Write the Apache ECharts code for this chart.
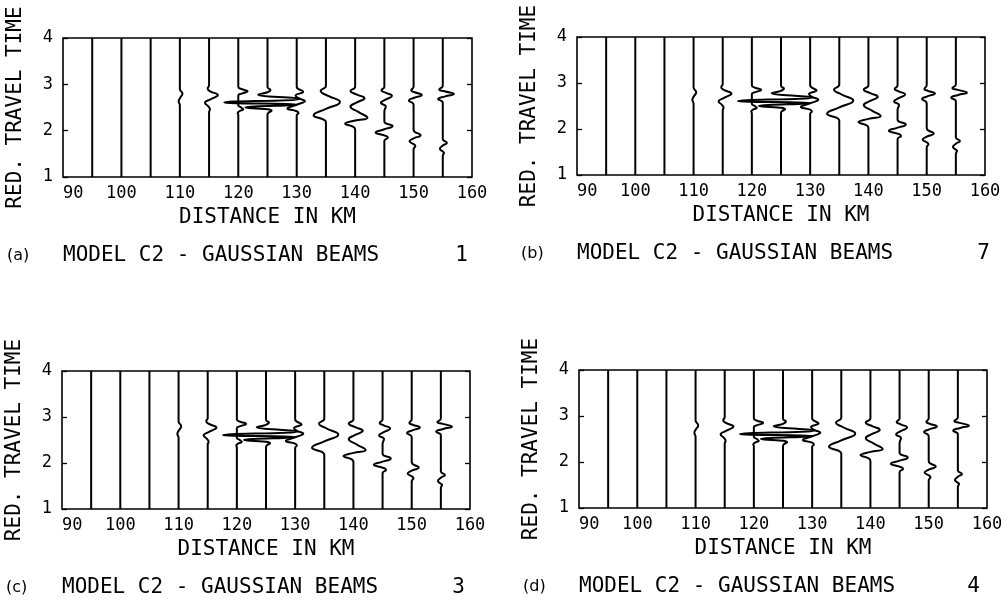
<!DOCTYPE html>
<html>
<head>
<meta charset="utf-8">
<script src="https://cdn.jsdelivr.net/npm/echarts@6/dist/echarts.min.js"></script>
<style>html,body{margin:0;padding:0;background:#fff}#c{width:1008px;height:603px}</style>
</head>
<body>
<div id="c"></div>
<script>
// ---- data ----
const distances = [95, 100, 105, 110, 115, 120, 125, 130, 135, 140, 145, 150, 155];
// each trace: [time (s), horizontal deflection (km)] from top (4 s) to bottom (1 s)
const trace95  = [[4,0],[1,0]];
const trace100 = [[4,0],[1,0]];
const trace105 = [[4,0],[1,0]];
const trace110 = [[4,0],[2.9,0],[2.8,0.45],[2.7,0],[2.63,-0.2],[2.55,0],[1,0]];
const trace115 = [[4,0],[2.98,0],[2.91,-0.25],[2.85,0.2],[2.77,1.5],[2.68,0.3],[2.6,-0.7],[2.52,-0.1],[2.46,0.15],[2.4,0],[1,0]];
const trace120 = [[4,0],[2.95,0],[2.9,0.5],[2.85,1.6],[2.8,0.6],[2.76,0],[2.55,0],[2.5,0.5],[2.46,0.85],[2.42,0.2],[2.38,-0.1],[2.34,0],[1,0]];
const trace125 = [[4,0],[2.94,0],[2.88,0.5],[2.83,0],[2.78,-1.6],[2.69,5.6],[2.61,-7.4],[2.56,5.0],[2.5,-3.8],[2.46,0],[2.43,0.7],[2.39,0.2],[2.35,0],[1,0]];
const trace130 = [[4,0],[2.95,0],[2.84,1.1],[2.76,-0.2],[2.7,0.3],[2.64,1.4],[2.56,0],[2.48,-1.6],[2.42,0],[2.38,0.3],[2.33,0],[1,0]];
const trace135 = [[4,0],[2.97,0],[2.86,-0.9],[2.75,0.4],[2.62,2.4],[2.47,0],[2.33,-2.1],[2.24,-0.4],[2.18,0],[1,0]];
const trace140 = [[4,0],[2.95,0],[2.86,-0.8],[2.78,0.3],[2.7,1.6],[2.61,0.3],[2.52,-0.8],[2.4,0.6],[2.28,2.1],[2.22,0],[2.15,-1.7],[2.08,-0.3],[2.02,0],[1,0]];
const trace145 = [[4,0],[2.95,0],[2.87,-0.5],[2.82,0.2],[2.75,1.3],[2.67,0.2],[2.6,-0.6],[2.52,0.25],[2.45,0.05],[2.4,0],[2.2,0],[2.1,1.4],[2.03,0],[1.96,-1.5],[1.9,0],[1.85,0.6],[1.78,0],[1,0]];
const trace150 = [[4,0],[2.95,0],[2.87,-0.4],[2.83,0.2],[2.77,1.4],[2.71,0.1],[2.65,-0.8],[2.59,-0.1],[2.55,0],[2.02,0],[1.9,1.2],[1.84,0.1],[1.77,-0.7],[1.71,0],[1.67,0.3],[1.6,0],[1,0]];
const trace155 = [[4,0],[2.97,0],[2.89,-0.6],[2.85,0.3],[2.79,1.9],[2.74,0.4],[2.68,-0.8],[2.63,-0.1],[2.59,0],[1.82,0],[1.74,0.7],[1.68,0],[1.61,-0.5],[1.55,0],[1.52,0.2],[1.46,0],[1,0]];
const traces = [trace95, trace100, trace105, trace110, trace115, trace120, trace125,
                trace130, trace135, trace140, trace145, trace150, trace155];

const panelLetters = ['(a)', '(b)', '(c)', '(d)'];
const panelNumbers = ['1', '7', '3', '4'];
const panelTitle = 'MODEL C2 - GAUSSIAN BEAMS';
const xName = 'DISTANCE IN KM';
const yName = 'RED. TRAVEL TIME';

// ---- layout ----
const grids = [
  {left: 63,  top: 38,  width: 409, height: 139},
  {left: 577, top: 37,  width: 408, height: 138},
  {left: 62,  top: 371, width: 408, height: 138},
  {left: 579, top: 370, width: 408, height: 138}
];
const numX = [468, 990, 465, 980];

const MONO = '"DejaVu Sans Mono", monospace';
const INK = '#000';

const option = {
  animation: false,
  backgroundColor: '#fff',
  grid: grids.map(g => Object.assign({show: true, borderColor: INK, borderWidth: 1.6, backgroundColor: 'transparent'}, g)),
  xAxis: grids.map((g, i) => ({
    type: 'value', gridIndex: i, min: 90, max: 160, interval: 10,
    axisLine: {show: false}, axisTick: {show: false}, splitLine: {show: false},
    axisLabel: {fontFamily: MONO, fontSize: 17, color: INK, margin: 8, alignMinLabel: 'left'}
  })),
  yAxis: [].concat(...grids.map((g, i) => ([
    {
      type: 'value', gridIndex: i, min: 1, max: 4, interval: 1, position: 'left',
      axisLine: {show: false}, splitLine: {show: false},
      axisTick: {show: true, inside: true, length: 5, lineStyle: {color: INK, width: 1.3}},
      axisLabel: {fontFamily: MONO, fontSize: 17, color: INK, margin: 10}
    },
    {
      type: 'value', gridIndex: i, min: 1, max: 4, interval: 1, position: 'right',
      axisLine: {show: false}, splitLine: {show: false},
      axisTick: {show: true, inside: true, length: 5, lineStyle: {color: INK, width: 1.3}},
      axisLabel: {show: false}
    }
  ]))),
  series: [],
  graphic: []
};

grids.forEach((g, p) => {
  distances.forEach((d, k) => {
    option.series.push({
      type: 'line',
      xAxisIndex: p,
      yAxisIndex: p * 2,
      data: traces[k].map(([t, dx]) => [d + dx, t]),
      smooth: 0.5,
      showSymbol: false,
      symbol: 'none',
      silent: true,
      lineStyle: {color: INK, width: 2}
    });
  });
  const cx = g.left + g.width / 2;
  const cy = g.top + g.height / 2;
  const bottom = g.top + g.height;
  option.graphic.push(
    {type: 'text', x: cx, y: bottom + 41, silent: true,
     style: {text: xName, font: '21px ' + MONO, fill: INK, textAlign: 'center', textVerticalAlign: 'middle', align: 'center', verticalAlign: 'middle'}},
    {type: 'text', x: g.left - 47, y: cy, rotation: Math.PI / 2, silent: true,
     style: {text: yName, font: '21px ' + MONO, fill: INK, textAlign: 'center', textVerticalAlign: 'middle', align: 'center', verticalAlign: 'middle'}},
    {type: 'text', x: g.left, y: bottom + 79, silent: true,
     style: {text: panelTitle, font: '21px ' + MONO, fill: INK, textAlign: 'left', textVerticalAlign: 'middle', align: 'left', verticalAlign: 'middle'}},
    {type: 'text', x: g.left - 56, y: bottom + 79, silent: true,
     style: {text: panelLetters[p], font: '16px "DejaVu Sans", sans-serif', fill: INK, textAlign: 'left', textVerticalAlign: 'middle', align: 'left', verticalAlign: 'middle'}},
    {type: 'text', x: numX[p], y: bottom + 79, silent: true,
     style: {text: panelNumbers[p], font: '21px ' + MONO, fill: INK, textAlign: 'right', textVerticalAlign: 'middle', align: 'right', verticalAlign: 'middle'}}
  );
});

const chart = echarts.init(document.getElementById('c'), null, {renderer: 'canvas'});
chart.setOption(option);
</script>
</body>
</html>
